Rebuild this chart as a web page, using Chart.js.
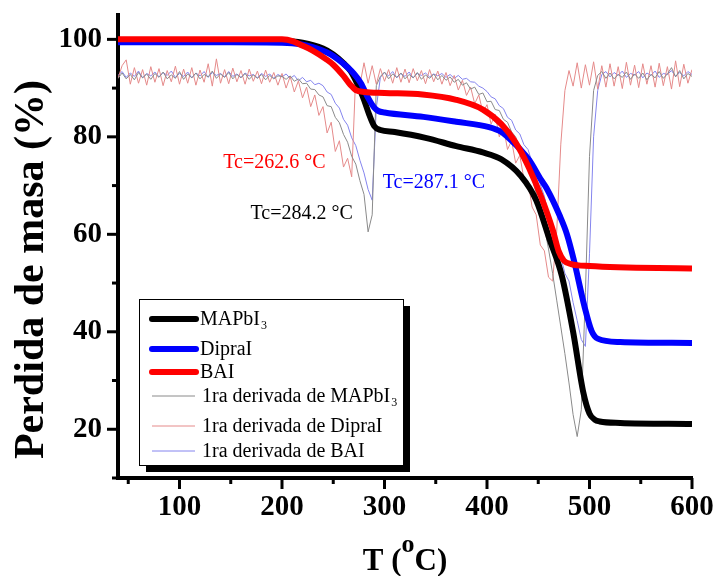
<!DOCTYPE html>
<html>
<head>
<meta charset="utf-8">
<title>Perdida de masa</title>
<script src="https://cdn.jsdelivr.net/npm/chart.js@4.4.1/dist/chart.umd.min.js"></script>
<style>
  html, body { margin: 0; padding: 0; background: #fff; }
  canvas { display: block; }
</style>
</head>
<body>
<canvas id="tga" width="715" height="576"></canvas>
<script>
// mass loss curves (T in oC, mass in %)
const tempMAPbI3 = [40, 100, 150, 200, 220, 240, 250, 260, 267, 275, 280, 285, 290, 296, 310, 340, 370, 396, 414, 433, 448, 461, 473, 484, 494, 500, 505, 510, 530, 600];
const massMAPbI3 = [99.8, 99.8, 99.8, 99.7, 99.3, 98.1, 96.9, 95.1, 93.5, 90.2, 87.6, 84.6, 82.2, 81.4, 81.0, 79.8, 78.1, 76.8, 75.4, 72.0, 67.0, 59.0, 51.5, 40.0, 27.5, 23.2, 22.0, 21.6, 21.3, 21.1];

const tempDipraI = [40, 150, 200, 218, 230, 244, 250, 260, 270, 277, 284, 290, 294, 300, 338, 370, 402, 414, 422, 433, 441, 453, 458, 471, 478, 485, 495, 502, 508, 530, 600];
const massDipraI = [99.4, 99.4, 99.3, 99.0, 98.4, 97.3, 96.6, 95.0, 93.0, 91.0, 88.0, 86.0, 85.3, 85.0, 84.1, 83.1, 82.0, 81.0, 79.6, 77.3, 75.3, 71.1, 69.5, 63.8, 60.0, 54.5, 45.3, 40.2, 38.6, 37.9, 37.7];

const tempBAI = [40, 150, 200, 211, 218, 230, 244, 250, 260, 267, 272, 280, 300, 337, 370, 396, 414, 428, 441, 453, 464, 470, 475, 482, 500, 600];
const massBAI = [100.0, 100.0, 100.0, 99.6, 98.9, 97.7, 95.8, 94.8, 92.5, 90.6, 89.6, 89.2, 89.0, 88.7, 87.6, 85.6, 82.6, 78.8, 73.6, 67.6, 61.0, 56.5, 54.6, 53.9, 53.5, 53.0];

// first derivative curves, all read on the same temperatures
const tempDeriv = [
  40, 44, 48, 52, 56, 60, 64, 68, 72, 76,
  80, 84, 88, 92, 96, 100, 104, 108, 112, 116,
  120, 124, 128, 132, 136, 140, 144, 148, 152, 156,
  160, 164, 168, 172, 176, 180, 184, 188, 192, 196,
  200, 204, 208, 212, 216, 220, 224, 228, 232, 236,
  240, 244, 248, 252, 256, 260, 264, 268, 272, 276,
  280, 284, 288, 292, 296, 300, 304, 308, 312, 316,
  320, 324, 328, 332, 336, 340, 344, 348, 352, 356,
  360, 364, 368, 372, 376, 380, 384, 388, 392, 396,
  400, 404, 408, 412, 416, 420, 424, 428, 432, 436,
  440, 444, 448, 452, 456, 460, 464, 468, 472, 476,
  480, 484, 488, 492, 496, 500, 504, 508, 512, 516,
  520, 524, 528, 532, 536, 540, 544, 548, 552, 556,
  560, 564, 568, 572, 576, 580, 584, 588, 592, 596,
  600
];
const derivMAPbI3 = [
  92.0, 93.1, 91.9, 92.8, 91.7, 93.2, 92.1, 92.9, 91.8, 93.0,
  92.2, 93.3, 91.9, 92.7, 92.0, 93.4, 91.8, 92.9, 92.1, 93.1,
  91.9, 92.8, 92.3, 93.5, 92.0, 92.9, 92.2, 93.2, 91.9, 92.8,
  92.1, 93.0, 91.8, 92.7, 92.0, 92.8, 91.7, 92.6, 91.9, 92.5,
  92.4, 91.8, 92.5, 91.4, 91.9, 90.9, 91.0, 89.8, 89.7, 88.6,
  88.2, 86.4, 86.2, 84.0, 82.9, 80.5, 78.9, 76.0, 74.4, 71.0,
  68.2, 60.5, 64.0, 90.5, 92.4, 93.3, 91.9, 92.9, 92.2, 93.1,
  91.9, 92.8, 92.1, 93.2, 91.8, 92.7, 92.0, 92.9, 91.7, 92.6,
  91.6, 92.3, 91.2, 91.8, 90.6, 91.1, 89.8, 90.2, 88.7, 89.0,
  87.2, 87.3, 85.6, 85.4, 83.6, 83.0, 81.0, 80.0, 77.6, 76.2,
  73.2, 71.4, 68.5, 65.6, 61.4, 57.0, 52.0, 46.5, 41.0, 35.5,
  29.5, 23.0, 18.5, 24.0, 48.0, 76.0, 89.5, 92.6, 93.4, 92.0,
  93.1, 91.9, 92.8, 92.2, 93.3, 91.8, 92.9, 92.0, 93.1, 91.7,
  92.8, 92.1, 93.4, 92.0, 92.9, 94.2, 92.3, 93.6, 91.9, 93.0,
  92.4
];
const derivDipraI = [
  92.0, 94.6, 95.8, 90.8, 94.2, 91.0, 93.8, 90.6, 94.4, 91.2,
  94.0, 90.5, 93.6, 91.3, 94.5, 90.8, 93.9, 91.0, 94.2, 90.6,
  93.7, 91.2, 95.0, 90.4, 96.0, 91.0, 93.8, 90.9, 94.1, 91.3,
  93.6, 90.8, 93.9, 91.4, 93.5, 90.9, 93.7, 91.2, 93.2, 90.6,
  93.0, 90.0, 92.4, 89.2, 91.5, 88.0, 90.2, 86.2, 88.6, 84.4,
  86.2, 80.8, 83.0, 77.0, 79.2, 73.8, 75.6, 71.8, 93.0, 90.6,
  95.2, 91.0, 94.6, 90.8, 94.0, 91.4, 93.8, 91.0, 94.2, 91.2,
  93.9, 91.1, 94.0, 91.5, 93.6, 90.9, 93.8, 91.3, 93.5, 90.8,
  93.2, 90.5, 92.6, 89.6, 91.6, 88.5, 90.2, 86.8, 88.6, 85.0,
  86.6, 82.6, 84.6, 80.0, 82.0, 77.4, 79.2, 74.6, 76.2, 71.4,
  71.0, 65.6, 64.0, 57.8, 56.6, 51.2, 50.4, 60.5, 78.5, 89.5,
  93.6, 90.4, 95.2, 90.0, 94.8, 90.6, 95.4, 89.8, 94.6, 90.2,
  95.0, 90.4, 94.4, 89.9, 95.3, 90.6, 94.7, 90.1, 95.0, 90.8,
  94.6, 90.2, 95.1, 90.5, 94.4, 89.8, 95.6, 90.3, 94.9, 91.0,
  93.8
];
const derivBAI = [
  92.6, 93.4, 92.2, 93.1, 92.4, 93.5, 92.1, 93.0, 92.5, 93.3,
  92.3, 93.2, 92.6, 93.5, 92.2, 93.0, 92.4, 93.3, 92.1, 93.1,
  92.5, 93.4, 92.2, 93.2, 92.6, 93.0, 92.3, 93.4, 92.4, 92.9,
  92.2, 93.1, 92.5, 92.8, 92.1, 93.0, 92.4, 92.9, 92.0, 92.8,
  92.3, 92.9, 92.0, 92.6, 91.5, 92.2, 91.3, 91.6, 90.7, 91.0,
  90.5, 89.2, 88.7, 86.9, 85.9, 83.6, 82.4, 79.8, 78.2, 75.2,
  72.6, 69.2, 67.0, 86.0, 92.2, 93.2, 92.5, 93.4, 92.1, 93.0,
  92.4, 93.3, 92.1, 93.0, 92.6, 93.1, 92.3, 92.9, 92.5, 93.0,
  92.2, 92.8, 92.0, 92.6, 91.8, 92.0, 91.3, 91.2, 90.4, 90.0,
  89.3, 88.2, 87.8, 86.4, 85.8, 84.0, 83.4, 81.4, 80.6, 78.4,
  77.4, 74.8, 73.4, 70.2, 67.8, 63.8, 61.0, 57.0, 55.4, 52.0,
  50.4, 46.0, 42.3, 38.4, 37.0, 56.0, 80.0, 89.5, 92.8, 93.4,
  92.3, 93.2, 92.6, 93.5, 92.2, 93.0, 92.7, 93.4, 92.1, 93.1,
  92.6, 93.5, 92.2, 93.0, 92.8, 93.6, 92.4, 93.2, 92.5, 93.4,
  92.8
];

const seriesLabels = ['MAPbI3', 'DipraI', 'BAI', '1ra derivada de MAPbI3', '1ra derivada de DipraI', '1ra derivada de BAI'];
const xTicks = [50, 100, 150, 200, 250, 300, 350, 400, 450, 500, 550, 600];
const yTicks = [10, 20, 30, 40, 50, 60, 70, 80, 90, 100];
const tcLabels = ['Tc=262.6 °C', 'Tc=287.1 °C', 'Tc=284.2 °C'];
const yTitle = 'Perdida de masa (%)';
const xTitle = ['T (', 'o', 'C)'];

const SERIF = '"Liberation Serif", "Times New Roman", serif';

//pairs up two arrays into {x, y} points for the linear x scale
function toPoints(xs, ys) {
	return xs.map((x, i) => ({ x: x, y: ys[i] }));
}

//draws text where a trailing digit is shown as a subscript (MAPbI3)
function drawSubText(ctx, text, x, y, size) {
	const m = text.match(/^(.*?)(\d)$/);
	ctx.font = size + 'px ' + SERIF;
	if (!m) {
		ctx.fillText(text, x, y);
		return;
	}
	ctx.fillText(m[1], x, y);
	const w = ctx.measureText(m[1]).width;
	ctx.font = Math.round(size * 0.62) + 'px ' + SERIF;
	ctx.fillText(m[2], x + w + 1, y + 4);
}

//outward tick marks, long on the labelled ticks and short on the others
const tickMarks = {
	id: 'tickMarks',
	afterDraw(chart) {
		const ctx = chart.ctx;
		const area = chart.chartArea;
		const xs = chart.scales.x;
		const ys = chart.scales.y;
		ctx.save();
		ctx.strokeStyle = '#000';
		ctx.lineWidth = 3;
		xs.ticks.forEach(t => {
			const px = xs.getPixelForValue(t.value);
			const len = t.value % 100 === 0 ? 11 : 6;
			ctx.beginPath();
			ctx.moveTo(px, area.bottom);
			ctx.lineTo(px, area.bottom + len);
			ctx.stroke();
		});
		ys.ticks.forEach(t => {
			const py = ys.getPixelForValue(t.value);
			const len = t.value % 20 === 0 ? 11 : 6;
			ctx.beginPath();
			ctx.moveTo(area.left, py);
			ctx.lineTo(area.left - len, py);
			ctx.stroke();
		});
		ctx.restore();
	}
};

//Tc notes placed in data coordinates
const tcNotes = {
	id: 'tcNotes',
	afterDatasetsDraw(chart, args, opts) {
		const ctx = chart.ctx;
		const xs = chart.scales.x;
		const ys = chart.scales.y;
		ctx.save();
		ctx.font = '20px ' + SERIF;
		ctx.textAlign = 'left';
		ctx.textBaseline = 'middle';
		opts.spots.forEach((s, i) => {
			ctx.fillStyle = s.color;
			ctx.fillText(tcLabels[i], xs.getPixelForValue(s.x), ys.getPixelForValue(s.y));
		});
		ctx.restore();
	}
};

//boxed legend with a solid drop shadow
const boxLegend = {
	id: 'boxLegend',
	afterDatasetsDraw(chart, args, opts) {
		const ctx = chart.ctx;
		const b = opts.box;
		ctx.save();
		ctx.fillStyle = '#000';
		ctx.fillRect(b.left + 7, b.top + 7, b.width, b.height);
		ctx.fillStyle = '#fff';
		ctx.fillRect(b.left, b.top, b.width, b.height);
		ctx.strokeStyle = '#000';
		ctx.lineWidth = 1;
		ctx.strokeRect(b.left + 0.5, b.top + 0.5, b.width, b.height);

		chart.data.datasets.forEach((ds, i) => {
			const base = b.top + opts.rows[i];
			const thick = ds.borderWidth > 2;
			ctx.strokeStyle = ds.borderColor;
			ctx.lineWidth = ds.borderWidth;
			ctx.lineCap = thick ? 'round' : 'butt';
			ctx.beginPath();
			ctx.moveTo(b.left + 13, base - 6);
			ctx.lineTo(b.left + (thick ? 57 : 56), base - 6);
			ctx.stroke();
			ctx.fillStyle = '#000';
			ctx.textAlign = 'left';
			ctx.textBaseline = 'alphabetic';
			drawSubText(ctx, ds.label, b.left + (thick ? 61 : 63), base, 20);
		});
		ctx.restore();
	}
};

//axis titles, the x one with a raised o
const axisTitles = {
	id: 'axisTitles',
	afterDraw(chart) {
		const ctx = chart.ctx;
		const a = chart.chartArea;
		ctx.save();
		ctx.fillStyle = '#000';
		ctx.textBaseline = 'alphabetic';

		ctx.save();
		ctx.font = 'bold 42px ' + SERIF;
		ctx.translate(43, (a.top + a.bottom) / 2 + 23);
		ctx.rotate(-Math.PI / 2);
		ctx.textAlign = 'center';
		ctx.fillText(yTitle, 0, 0);
		ctx.restore();

		const big = 'bold 31px ' + SERIF;
		const small = 'bold 26px ' + SERIF;
		ctx.textAlign = 'left';
		ctx.font = big;
		const w1 = ctx.measureText(xTitle[0]).width;
		const w3 = ctx.measureText(xTitle[2]).width;
		ctx.font = small;
		const w2 = ctx.measureText(xTitle[1]).width;
		let x = (a.left + a.right) / 2 - (w1 + w2 + w3) / 2;
		const base = 570;
		ctx.font = big;
		ctx.fillText(xTitle[0], x, base);
		x += w1;
		ctx.font = small;
		ctx.fillText(xTitle[1], x, base - 18);
		x += w2;
		ctx.font = big;
		ctx.fillText(xTitle[2], x, base);
		ctx.restore();
	}
};

const datasets = [
	{ label: seriesLabels[0], data: toPoints(tempMAPbI3, massMAPbI3), borderColor: '#000000', borderWidth: 6, cubicInterpolationMode: 'monotone', order: 2 },
	{ label: seriesLabels[1], data: toPoints(tempDipraI, massDipraI), borderColor: '#0000ff', borderWidth: 6, cubicInterpolationMode: 'monotone', order: 1 },
	{ label: seriesLabels[2], data: toPoints(tempBAI, massBAI), borderColor: '#ff0000', borderWidth: 6, cubicInterpolationMode: 'monotone', order: 0 },
	{ label: seriesLabels[3], data: toPoints(tempDeriv, derivMAPbI3), borderColor: '#8a8a8a', borderWidth: 1, order: 3 },
	{ label: seriesLabels[4], data: toPoints(tempDeriv, derivDipraI), borderColor: '#e58a8a', borderWidth: 1, order: 4 },
	{ label: seriesLabels[5], data: toPoints(tempDeriv, derivBAI), borderColor: '#8484ee', borderWidth: 1, order: 5 }
];
datasets.forEach(ds => {
	ds.pointRadius = 0;
	ds.fill = false;
	ds.borderJoinStyle = 'round';
});

const tickFont = { family: SERIF, size: 29, weight: 'bold' };

new Chart(document.getElementById('tga'), {
	type: 'line',
	data: { datasets: datasets },
	plugins: [tickMarks, tcNotes, boxLegend, axisTitles],
	options: {
		responsive: false,
		animation: false,
		devicePixelRatio: 1,
		events: [],
		layout: { padding: { left: 0, right: 23, top: 15, bottom: 0 } },
		scales: {
			x: {
				type: 'linear',
				min: 40,
				max: 600,
				afterFit: scale => {
					scale.height = 98;
					scale.paddingLeft = 0;
					scale.paddingRight = 0;
				},
				afterBuildTicks: scale => { scale.ticks = xTicks.map(v => ({ value: v })); },
				grid: { display: false, drawTicks: true, tickLength: 10 },
				border: { display: true, color: '#000', width: 4 },
				ticks: {
					autoSkip: false,
					maxRotation: 0,
					padding: 2,
					color: '#000',
					font: tickFont,
					callback: v => (v % 100 === 0 ? String(v) : '')
				}
			},
			y: {
				min: 10,
				max: 105,
				afterFit: scale => {
					scale.width = 118;
					scale.paddingTop = 0;
					scale.paddingBottom = 0;
				},
				afterBuildTicks: scale => { scale.ticks = yTicks.map(v => ({ value: v })); },
				grid: { display: false, drawTicks: true, tickLength: 10 },
				border: { display: true, color: '#000', width: 4 },
				ticks: {
					autoSkip: false,
					padding: 6,
					color: '#000',
					font: tickFont,
					callback: v => (v % 20 === 0 ? String(v) : '')
				}
			}
		},
		plugins: {
			legend: { display: false },
			tooltip: { enabled: false },
			tcNotes: {
				spots: [
					{ x: 142.7, y: 74.6, color: '#ff0000' },
					{ x: 298.3, y: 70.5, color: '#0000ff' },
					{ x: 169.2, y: 64.3, color: '#000000' }
				]
			},
			boxLegend: {
				box: { left: 139, top: 299, width: 264, height: 166 },
				rows: [26, 56, 79, 103, 133, 158]
			}
		}
	}
});
</script>
</body>
</html>
